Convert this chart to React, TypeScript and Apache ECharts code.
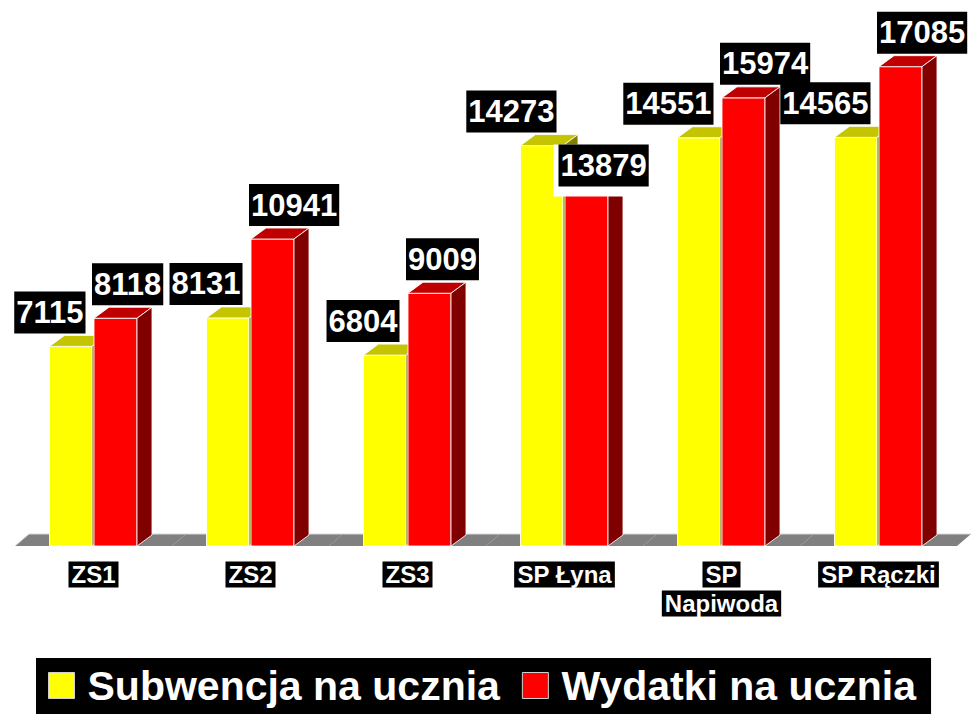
import React, { useEffect, useRef } from "react";
import * as echarts from "echarts";

const categories = ["ZS1", "ZS2", "ZS3", "SP Łyna", "SP Napiwoda", "SP Rączki"];
const subwencja = [7115, 8131, 6804, 14273, 14551, 14565];
const wydatki = [8118, 10941, 9009, 13879, 15974, 17085];
const seriesNames = ["Subwencja na ucznia", "Wydatki na ucznia"];

const FONT = '"Liberation Sans", Arial, sans-serif';
const DX = 15;
const DY = 11;
const EDGE = "rgba(255,255,255,0.85)";

const yellowFaces = { front: "#ffff00", top: "#c4c400", side: "#808000" };
const redFaces = { front: "#ff0000", top: "#c00000", side: "#800000" };

function bar3d(x0: number, x1: number, yT: number, base: number, faces: any) {
  return [
    {
      type: "polygon",
      shape: { points: [[x0, yT], [x1, yT], [x1, base], [x0, base]] },
      style: { fill: faces.front, stroke: EDGE, lineWidth: 1 },
    },
    {
      type: "polygon",
      shape: { points: [[x0, yT], [x1, yT], [x1 + DX, yT - DY], [x0 + DX, yT - DY]] },
      style: { fill: faces.top, stroke: EDGE, lineWidth: 1 },
    },
    {
      type: "polygon",
      shape: { points: [[x1, yT], [x1 + DX, yT - DY], [x1 + DX, base - DY], [x1, base]] },
      style: { fill: faces.side, stroke: EDGE, lineWidth: 1 },
    },
  ];
}

let measureCtx: CanvasRenderingContext2D | null = null;
function textWidth(s: string, font: string) {
  if (!measureCtx) measureCtx = document.createElement("canvas").getContext("2d");
  if (!measureCtx) return s.length * 17;
  measureCtx.font = font;
  return measureCtx.measureText(s).width;
}

const LABEL_FONT_SIZE = 31;
const LABEL_PAD = [3, 2, 3, 2];
const LABEL_H = 36 + 6;

function labelStyle(text: string, align: string, vAlign: string) {
  return {
    text,
    fill: "#ffffff",
    fontSize: LABEL_FONT_SIZE,
    fontWeight: "bold",
    fontFamily: FONT,
    lineHeight: 36,
    align,
    verticalAlign: vAlign,
    backgroundColor: "#000000",
    padding: LABEL_PAD,
  };
}

export default function App() {
  const ref = useRef<HTMLDivElement>(null);

  useEffect(() => {
    document.body.style.margin = "0";
    if (!ref.current) return;
    const chart = echarts.init(ref.current, null, { renderer: "svg" });

    const floorData = categories.map((_, i) => [i, 0]);
    const yData = subwencja.map((v, i) => [i, v]);
    const rData = wydatki.map((v, i) => [i, v]);
    const lData = categories.map((_, i) => [i, subwencja[i], wydatki[i]]);

    const option: any = {
      animation: false,
      backgroundColor: "#ffffff",
      grid: { left: 15, right: 21, top: 41, bottom: 168, containLabel: false },
      xAxis: {
        type: "category",
        data: categories,
        axisLine: { show: false },
        axisTick: { show: false },
        splitLine: { show: false },
        axisLabel: {
          interval: 0,
          margin: 14,
          formatter: (v: string) =>
            v.length > 10
              ? v.split(" ").map((s) => `{a|${s}}`).join("\n")
              : `{a|${v}}`,
          rich: {
            a: {
              backgroundColor: "#000000",
              color: "#ffffff",
              fontSize: 24,
              fontWeight: "bold",
              fontFamily: FONT,
              lineHeight: 29,
              padding: [1, 3, 1, 3],
            },
          },
        },
      },
      yAxis: { type: "value", min: 0, max: 18000, show: false },
      legend: {
        data: seriesNames,
        left: 36,
        top: 658,
        backgroundColor: "#000000",
        padding: [7, 15, 8, 12],
        itemWidth: 26,
        itemHeight: 26,
        itemGap: 22,
        icon: "rect",
        selectedMode: false,
        itemStyle: { borderColor: "#d0d0d0", borderWidth: 1 },
        textStyle: {
          color: "#ffffff",
          fontSize: 41,
          fontWeight: "bold",
          fontFamily: FONT,
          padding: [0, 0, 0, 8],
        },
      },
      series: [
        {
          type: "custom",
          name: "floor",
          silent: true,
          z: 1,
          data: floorData,
          encode: { x: 0, y: 1 },
          renderItem: (params: any, api: any) => {
            const i = api.value(0);
            const [c, base] = api.coord([i, 0]);
            const bw = api.size([1, 0])[0];
            const x0 = c - bw / 2;
            const x1 = c + bw / 2;
            const fdx = 14;
            const fdy = 12;
            const children: any[] = [
              {
                type: "polygon",
                shape: { points: [[x0, base], [x1, base], [x1 + fdx, base - fdy], [x0 + fdx, base - fdy]] },
                style: { fill: "#808080" },
              },
              {
                type: "line",
                shape: { x1: x0 + fdx, y1: base - fdy, x2: x1 + fdx, y2: base - fdy },
                style: { stroke: "#d8d8d8", lineWidth: 1 },
              },
            ];
            if (i === 0) {
              children.push({
                type: "line",
                shape: { x1: x0, y1: base, x2: x0 + fdx, y2: base - fdy },
                style: { stroke: "#d8d8d8", lineWidth: 1 },
              });
            }
            return { type: "group", children };
          },
        },
        {
          type: "custom",
          name: seriesNames[0],
          z: 2,
          itemStyle: { color: yellowFaces.front },
          data: yData,
          encode: { x: 0, y: 1 },
          renderItem: (params: any, api: any) => {
            const i = api.value(0);
            const v = api.value(1);
            const [c, yT] = api.coord([i, v]);
            const base = api.coord([i, 0])[1];
            return { type: "group", children: bar3d(c - 44, c - 1.5, yT, base, yellowFaces) };
          },
        },
        {
          type: "custom",
          name: seriesNames[1],
          z: 3,
          itemStyle: { color: redFaces.front },
          data: rData,
          encode: { x: 0, y: 1 },
          renderItem: (params: any, api: any) => {
            const i = api.value(0);
            const v = api.value(1);
            const [c, yT] = api.coord([i, v]);
            const base = api.coord([i, 0])[1];
            return { type: "group", children: bar3d(c + 0.5, c + 43.5, yT, base, redFaces) };
          },
        },
        {
          type: "custom",
          name: "labels",
          silent: true,
          z: 10,
          data: lData,
          encode: { x: 0, y: [1, 2] },
          renderItem: (params: any, api: any) => {
            const i = api.value(0);
            const yv = api.value(1);
            const rv = api.value(2);
            const [c, yT] = api.coord([i, yv]);
            const rT = api.coord([i, rv])[1];
            const yellowLeft = c - 44;
            const redLeft = c + 0.5;
            const yRight = yellowLeft + 36;
            const yBottom = yT - 13;
            const children: any[] = [
              {
                type: "text",
                x: yRight,
                y: yBottom,
                style: labelStyle(String(yv), "right", "bottom"),
              },
            ];
            if (rv < yv) {
              const left = yRight + 2;
              const top = yBottom + 12;
              const w =
                textWidth(String(rv), `bold ${LABEL_FONT_SIZE}px ${FONT}`) +
                LABEL_PAD[1] + LABEL_PAD[3];
              children.push({
                type: "rect",
                shape: { x: left - 5, y: top, width: w + 10, height: LABEL_H + 10 },
                style: { fill: "#ffffff" },
              });
              children.push({
                type: "text",
                x: left,
                y: top,
                style: labelStyle(String(rv), "left", "top"),
              });
            } else {
              children.push({
                type: "text",
                x: redLeft - 2,
                y: rT - 13,
                style: labelStyle(String(rv), "left", "bottom"),
              });
            }
            return { type: "group", children };
          },
        },
      ],
    };

    chart.setOption(option);
    return () => chart.dispose();
  }, []);

  return <div ref={ref} style={{ width: 978, height: 714 }} />;
}
